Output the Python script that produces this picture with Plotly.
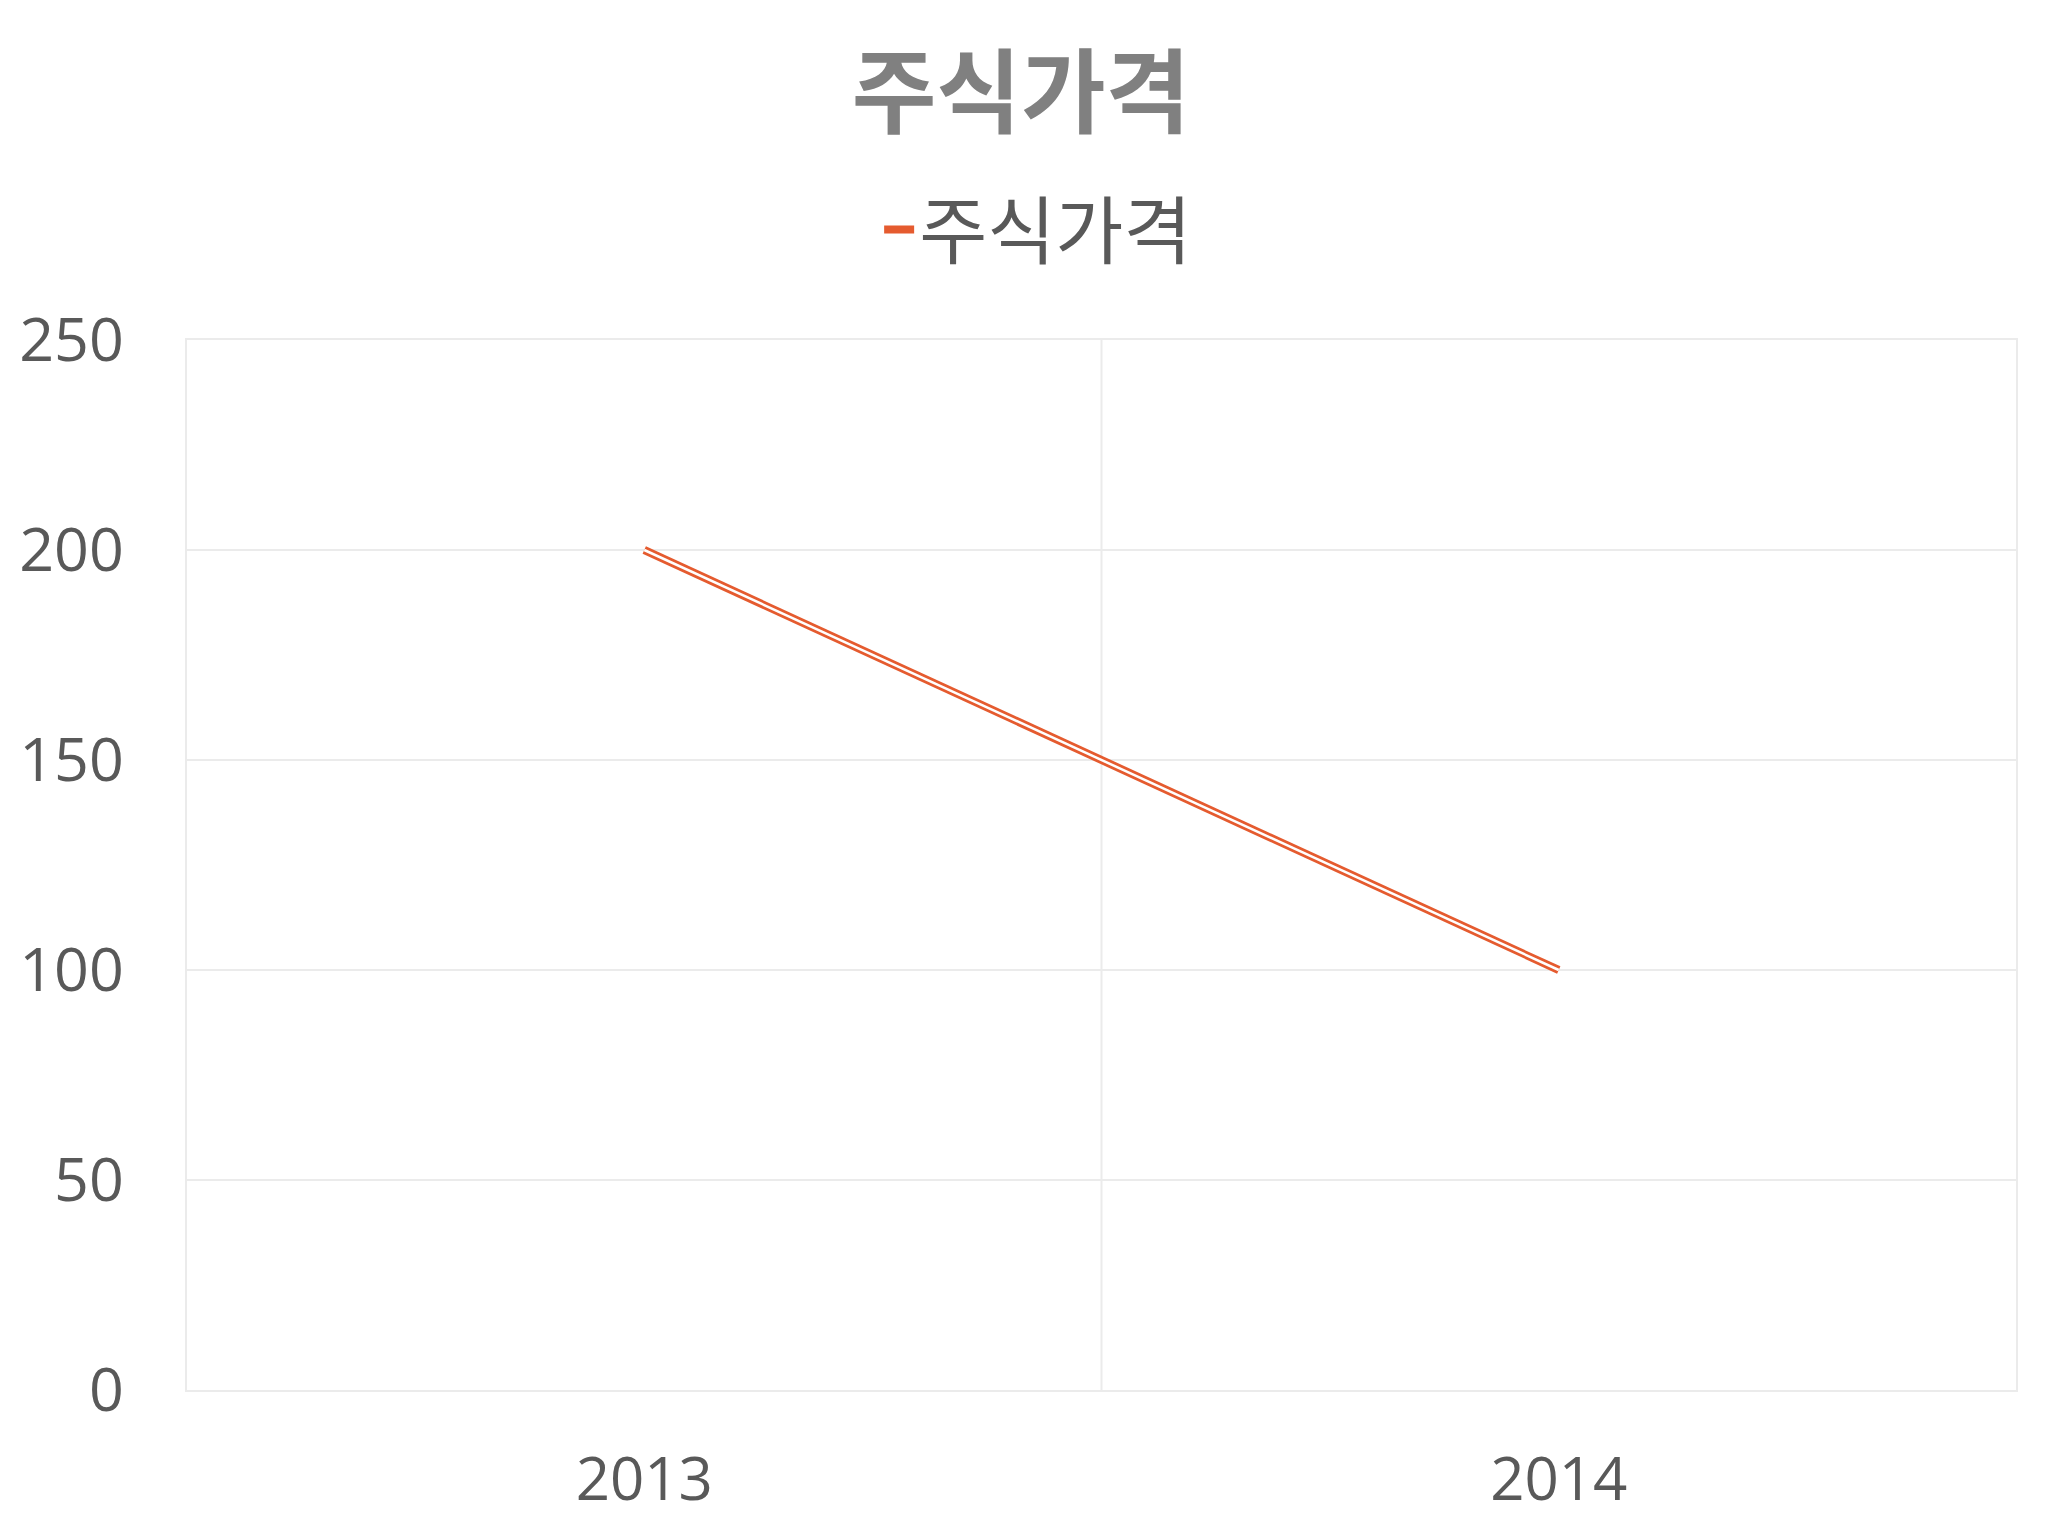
import plotly.graph_objects as go

categories = ["2013", "2014"]
prices = [200, 100]
series_name = "주식가격"
title_text = "주식가격"
y_ticks = [0, 50, 100, 150, 200, 250]

LINE = "#E55B2F"
GRID = "#EBEBEB"
TXT = "#595959"
FONT = "Open Sans, Noto Sans CJK KR, sans-serif"

fig = go.Figure()
fig.add_trace(go.Scatter(
    x=categories, y=prices, mode="lines", name=series_name,
    line=dict(color=LINE, width=8), showlegend=True,
))
fig.add_trace(go.Scatter(
    x=categories, y=prices, mode="lines", name=series_name,
    line=dict(color="white", width=2.5), showlegend=False, hoverinfo="skip",
))

fig.update_layout(
    width=2048, height=1536,
    margin=dict(l=179, r=40, t=332, b=154, autoexpand=False),
    paper_bgcolor="white", plot_bgcolor="white",
    font=dict(family=FONT, color=TXT, size=60),
    title=dict(text="<b>" + title_text + "</b>", x=0.4946, xanchor="center",
               y=1 - 86 / 1536, yanchor="middle",
               font=dict(family=FONT, size=92, color="#808080")),
    legend=dict(orientation="h", x=0.503, xref="container", xanchor="center",
                y=(1536 - 222) / 1536,
                yref="container", yanchor="middle",
                font=dict(family=FONT, size=74, color=TXT),
                itemwidth=30),
    showlegend=True,
)

fig.update_xaxes(
    type="category", range=[-0.5, 1.5], automargin=False,
    showgrid=False, showline=True, mirror=True, linecolor=GRID, linewidth=2,
    ticks="", tickfont=dict(size=60, color=TXT), ticklabelstandoff=36,
    zeroline=False,
)
fig.update_yaxes(
    range=[0, 250], tickvals=y_ticks, automargin=False,
    showgrid=True, gridcolor=GRID, gridwidth=2,
    showline=True, mirror=True, linecolor=GRID, linewidth=2,
    ticks="", tickfont=dict(size=61, color=TXT), ticklabelstandoff=49,
    zeroline=False,
)
# category boundary gridline in the middle
fig.add_vline(x=0.5, line=dict(color=GRID, width=2), layer="below")

fig.write_html("out.html")
